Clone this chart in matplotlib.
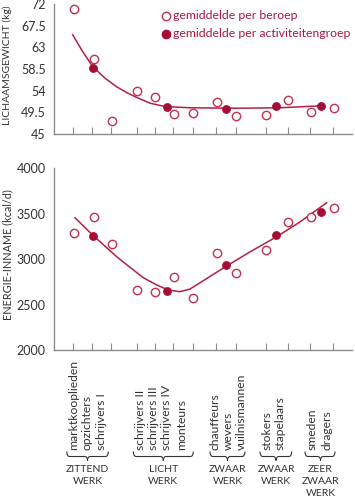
import matplotlib
matplotlib.use("Agg")
import matplotlib.pyplot as plt
from matplotlib.path import Path
from matplotlib.patches import PathPatch
from matplotlib.lines import Line2D

plt.rcParams["font.family"] = ["Lato", "DejaVu Sans"]

# x positions of the occupations (arbitrary activity scale)
tick_x = [72.7, 91.7, 111, 136.5, 155, 173.3, 192.7, 216.2, 236.3, 266, 287.5, 310, 333]
beroep_x = [74, 93.5, 112, 137, 155.3, 173.8, 193, 217, 236.3, 266, 287.5, 311, 333.5]
groep_x = [93.3, 166.5, 226.2, 276.2, 321.2]

# lichaamsgewicht (kg)
gewicht_beroep = [70.9, 60.6, 47.7, 54.0, 52.6, 49.15, 49.3, 51.7, 48.8, 48.95, 52.05, 49.5, 50.5]
gewicht_groep = [58.7, 50.7, 50.2, 50.8, 50.9]
gewicht_curve_x = [72.7, 82.7, 92.7, 105, 116.7, 126.7, 136.7, 150, 165, 190, 236, 280, 320]
gewicht_curve_y = [65.6, 62.1, 59.0, 56.6, 54.8, 53.6, 52.6, 51.4, 50.7, 50.45, 50.35, 50.45, 50.85]

# energie-inname (kcal/d)
energie_beroep = [3292, 3468, 3163, 2657, 2635, 2807, 2576, 3072, 2848, 3101, 3405, 3461, 3567]
energie_groep = [3259, 2653, 2936, 3270, 3523]
energie_curve_x = [75, 93.3, 116.7, 130, 143.3, 156, 168.3, 180, 190, 205, 226.7, 250, 276.7, 300, 326.7]
energie_curve_y = [3456, 3258, 3027, 2910, 2796, 2720, 2660, 2642, 2671, 2775, 2925, 3080, 3247, 3410, 3621]

gewicht_ticks = [45, 49.5, 54, 58.5, 63, 67.5, 72]
gewicht_ticklabels = ["45", "49.5", "54", "58.5", "63", "67.5", "72"]
energie_ticks = [2000, 2500, 3000, 3500, 4000]

beroepen = ["marktkooplieden", "opzichters", "schrijvers I",
            "schrijvers II", "schrijvers III", "schrijvers IV", "monteurs",
            "chauffeurs", "wevers", "vuilnismannen",
            "stokers", "stapelaars",
            "smeden", "dragers"]
beroep_label_x = [73.3, 86.7, 101.7, 140, 153.3, 166.7, 181.7,
                  215, 228, 241.7, 266.7, 280, 311.7, 326.7]
groepen = ["ZITTEND\nWERK", "LICHT\nWERK", "ZWAAR\nWERK", "ZWAAR\nWERK", "ZEER\nZWAAR\nWERK"]
groep_span = [(66.7, 108.3), (133.3, 193.3), (210, 245), (260, 291.7), (305, 335)]
groep_mid = [87.5, 163.3, 227.5, 276, 320.5]

RED_OPEN = "#c4304f"
RED_FILL = "#a50d35"
RED_LINE = "#b51e45"
GREY = "#8c8c8c"
TXT = "#333333"

W, H = 355, 501
fig = plt.figure(figsize=(W / 100, H / 100), dpi=100)


def px(x, y):
    # pixel position (y from top) -> figure fraction
    return x / W, 1 - y / H


def style_axis(ax):
    ax.spines["top"].set_visible(False)
    ax.spines["right"].set_visible(False)
    for s in ("left", "bottom"):
        ax.spines[s].set_color(GREY)
        ax.spines[s].set_linewidth(1.0)
    ax.set_xlim(54, 352)
    ax.set_xticks(tick_x)
    ax.set_xticklabels([])
    ax.tick_params(axis="x", direction="in", length=5, width=0.8, color=GREY)
    ax.tick_params(axis="y", length=0, pad=6, labelsize=9, labelcolor=TXT)


def draw_points(ax, cx, cy, by, gy):
    ax.plot(cx, cy, color=RED_LINE, lw=1.1, zorder=2)
    ax.plot(beroep_x, by, "o", ms=6, mfc="white", mec=RED_OPEN, mew=1.0, zorder=3, clip_on=False)
    ax.plot(groep_x, gy, "o", ms=5.8, mfc=RED_FILL, mec=RED_FILL, mew=0.5, zorder=4)


# top panel
ax1 = fig.add_axes([54 / W, 1 - 134 / H, 298 / W, 130 / H])
style_axis(ax1)
ax1.set_ylim(45, 72)
ax1.set_yticks(gewicht_ticks)
ax1.set_yticklabels(gewicht_ticklabels)
draw_points(ax1, gewicht_curve_x, gewicht_curve_y, gewicht_beroep, gewicht_groep)

# bottom panel
ax2 = fig.add_axes([54 / W, 1 - 350 / H, 298 / W, 181.7 / H])
style_axis(ax2)
ax2.set_ylim(2000, 4000)
ax2.set_yticks(energie_ticks)
draw_points(ax2, energie_curve_x, energie_curve_y, energie_beroep, energie_groep)

# axis titles
fig.text(*px(7.5, 65), "LICHAAMSGEWICHT (kg)", rotation=90, ha="center", va="center",
         fontsize=7.5, color=TXT)
fig.text(*px(8, 255), "ENERGIE-INNAME (kcal/d)", rotation=90, ha="center", va="center",
         fontsize=7.8, color=TXT)

# legend
fig.add_artist(Line2D([px(165.7, 16)[0]], [px(165.7, 16)[1]], marker="o", ms=6,
                      mfc="white", mec=RED_OPEN, mew=1.0, ls="none"))
fig.add_artist(Line2D([px(165.7, 34)[0]], [px(165.7, 34)[1]], marker="o", ms=6,
                      mfc=RED_FILL, mec=RED_FILL, ls="none"))
fig.text(*px(173, 15.5), "gemiddelde per beroep", ha="left", va="center", fontsize=8.8, color="#a8173f")
fig.text(*px(173, 33.5), "gemiddelde per activiteitengroep", ha="left", va="center", fontsize=8.8,
         color="#a8173f")

# occupation labels
for name, lx in zip(beroepen, beroep_label_x):
    fig.text(*px(lx, 450), name, rotation=90, rotation_mode="anchor", ha="left", va="center",
             fontsize=8.7, color=TXT)

# braces and group labels
for (x0, x1), xc, lab in zip(groep_span, groep_mid, groepen):
    yt, ym, yb = 451.5, 456.5, 460.5
    pts = [(x0, yt), (x0, ym), (x0 + 3, ym), (xc - 3, ym), (xc, ym), (xc, yb),
           (xc, ym), (xc + 3, ym), (x1 - 3, ym), (x1, ym), (x1, yt)]
    codes = [Path.MOVETO, Path.CURVE3, Path.CURVE3, Path.LINETO, Path.CURVE3, Path.CURVE3,
             Path.CURVE3, Path.CURVE3, Path.LINETO, Path.CURVE3, Path.CURVE3]
    path = Path([px(a, b) for a, b in pts], codes)
    fig.add_artist(PathPatch(path, transform=fig.transFigure, fill=False, ec=TXT, lw=0.8))
    fig.text(*px(xc, 465), lab, ha="center", va="top", fontsize=7.5, color=TXT, linespacing=1.4)

fig.savefig("out.png", dpi=100)
